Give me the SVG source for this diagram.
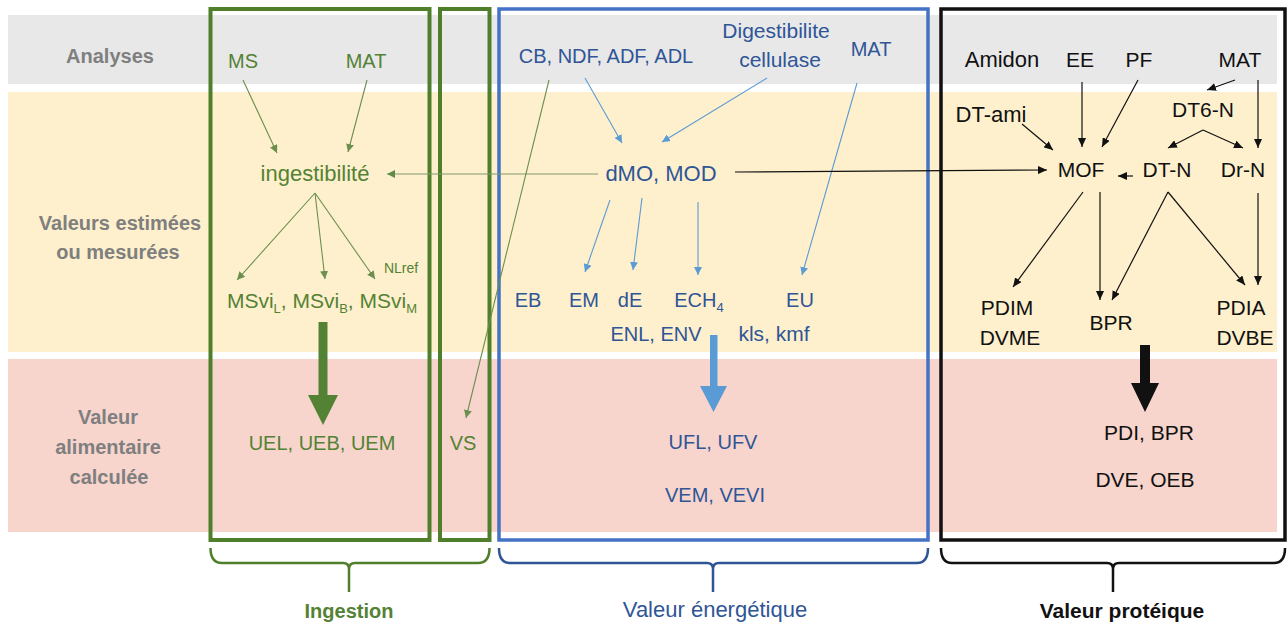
<svg xmlns="http://www.w3.org/2000/svg" width="1288" height="626" viewBox="0 0 1288 626">
  <style>
    text { font-family: "Liberation Sans", Arial, sans-serif; font-size: 20px; text-anchor: middle; }
    .row { font-weight: bold; fill: #7f7f7f; }
    .g { fill: #548235; }
    .b { fill: #2f5597; }
    .k { fill: #111111; font-size: 21px; }
    .big { font-size: 22px; }
    .sub { font-size: 13px; }
    .lg { stroke: #6b8f4f; stroke-width: 1.1; fill: none; }
    .lgr { stroke: #7f9a6f; stroke-width: 1.1; fill: none; }
    .lb { stroke: #5b9bd5; stroke-width: 1.1; fill: none; }
    .lk { stroke: #111111; stroke-width: 1.2; fill: none; }
    .box { fill: none; }
    .brace { fill: none; stroke-width: 2.5; }
  </style>
  <defs>
    <marker id="ah-g" markerUnits="userSpaceOnUse" markerWidth="9" markerHeight="8" refX="8" refY="4" orient="auto">
      <path d="M0,0 L8,4 L0,8 z" fill="#6b8f4f"/>
    </marker>
    <marker id="ah-gr" markerUnits="userSpaceOnUse" markerWidth="9" markerHeight="8" refX="8" refY="4" orient="auto">
      <path d="M0,0 L8,4 L0,8 z" fill="#5f8a47"/>
    </marker>
    <marker id="ah-b" markerUnits="userSpaceOnUse" markerWidth="9" markerHeight="8" refX="8" refY="4" orient="auto">
      <path d="M0,0 L8,4 L0,8 z" fill="#5b9bd5"/>
    </marker>
    <marker id="ah-k" markerUnits="userSpaceOnUse" markerWidth="10" markerHeight="8" refX="9" refY="4" orient="auto">
      <path d="M0,0 L9,4 L0,8 z" fill="#111111"/>
    </marker>
  </defs>

  <rect width="1288" height="626" fill="#ffffff"/>

  <!-- horizontal bands -->
  <g id="bands">
    <rect x="8" y="15" width="1269" height="69" fill="#e8e8e8"/>
    <rect x="8" y="92" width="1269" height="260" fill="#fef0cc"/>
    <rect x="8" y="359" width="1269" height="173" fill="#f7d5cd"/>
  </g>

  <!-- row titles -->
  <g id="row-labels">
    <text class="row" x="110" y="63">Analyses</text>
    <text class="row" x="120" y="230">Valeurs estimées</text>
    <text class="row" x="118" y="259">ou mesurées</text>
    <text class="row" x="108" y="424">Valeur</text>
    <text class="row" x="108" y="454">alimentaire</text>
    <text class="row" x="109" y="484">calculée</text>
  </g>

  <!-- frames -->
  <g id="frames">
    <rect class="box" x="210.5" y="9" width="219" height="531" stroke="#4f7f2a" stroke-width="4"/>
    <rect class="box" x="440" y="9" width="49.5" height="531" stroke="#4f7f2a" stroke-width="4"/>
    <rect class="box" x="499" y="9" width="429" height="531" stroke="#4472c4" stroke-width="3.5"/>
    <rect class="box" x="941" y="9" width="344" height="531" stroke="#111111" stroke-width="3.5"/>
  </g>

  <!-- connectors -->
  <g id="connectors">
    <!-- ingestion -->
    <line class="lg" x1="243" y1="80" x2="277" y2="153" marker-end="url(#ah-g)"/>
    <line class="lg" x1="367" y1="80" x2="348" y2="152" marker-end="url(#ah-g)"/>
    <line class="lg" x1="315" y1="193" x2="237" y2="280" marker-end="url(#ah-g)"/>
    <line class="lg" x1="315" y1="193" x2="325" y2="279" marker-end="url(#ah-g)"/>
    <line class="lg" x1="315" y1="193" x2="375" y2="279" marker-end="url(#ah-g)"/>
    <line class="lgr" x1="598" y1="174" x2="387" y2="174" marker-end="url(#ah-gr)"/>
    <line class="lg" x1="549" y1="80" x2="466" y2="418" marker-end="url(#ah-g)"/>
    <path d="M318.5,322 H327.5 V395 H338 L323,425 L308,395 H318.5 z" fill="#548235"/>

    <!-- energy -->
    <line class="lb" x1="585" y1="78" x2="622" y2="143" marker-end="url(#ah-b)"/>
    <line class="lb" x1="767" y1="78" x2="662" y2="142" marker-end="url(#ah-b)"/>
    <line class="lb" x1="857" y1="83" x2="802" y2="275" marker-end="url(#ah-b)"/>
    <line class="lb" x1="610" y1="200" x2="585" y2="272" marker-end="url(#ah-b)"/>
    <line class="lb" x1="642" y1="198" x2="633" y2="270" marker-end="url(#ah-b)"/>
    <line class="lb" x1="698" y1="202" x2="698" y2="275" marker-end="url(#ah-b)"/>
    <path d="M710,335 H717.5 V386 H727 L713.5,412 L700,386 H710 z" fill="#5b9bd5"/>

    <!-- protein -->
    <line class="lk" x1="735" y1="172" x2="1047" y2="170" marker-end="url(#ah-k)"/>
    <line class="lk" x1="1082" y1="82" x2="1082" y2="147" marker-end="url(#ah-k)"/>
    <line class="lk" x1="1138" y1="80" x2="1102" y2="147" marker-end="url(#ah-k)"/>
    <line class="lk" x1="1022" y1="124" x2="1053" y2="150" marker-end="url(#ah-k)"/>
    <line class="lk" x1="1235" y1="80" x2="1207" y2="90" marker-end="url(#ah-k)"/>
    <line class="lk" x1="1258" y1="80" x2="1258" y2="148" marker-end="url(#ah-k)"/>
    <line class="lk" x1="1203" y1="130" x2="1168" y2="148" marker-end="url(#ah-k)"/>
    <line class="lk" x1="1203" y1="130" x2="1243" y2="148" marker-end="url(#ah-k)"/>
    <line class="lk" x1="1133" y1="176" x2="1118" y2="176" marker-end="url(#ah-k)"/>
    <line class="lk" x1="1083" y1="192" x2="1013" y2="287" marker-end="url(#ah-k)"/>
    <line class="lk" x1="1100" y1="192" x2="1100" y2="300" marker-end="url(#ah-k)"/>
    <line class="lk" x1="1168" y1="192" x2="1112" y2="300" marker-end="url(#ah-k)"/>
    <line class="lk" x1="1168" y1="192" x2="1245" y2="285" marker-end="url(#ah-k)"/>
    <line class="lk" x1="1258" y1="193" x2="1258" y2="285" marker-end="url(#ah-k)"/>
    <path d="M1140,345 H1150 V383 H1159 L1145,412 L1131,383 H1140 z" fill="#111111"/>
  </g>

  <!-- ingestion nodes -->
  <g id="n-ms"><text class="g" x="243" y="68">MS</text></g>
  <g id="n-mat-g"><text class="g" x="366" y="68">MAT</text></g>
  <g id="n-ingestibilite"><text class="g big" x="315" y="181">ingestibilité</text></g>
  <g id="n-nlref"><text class="g" x="401" y="273" style="font-size:14px">NLref</text></g>
  <g id="n-msvi"><text class="g" x="322" y="308" style="font-size:21px">MSvi<tspan class="sub" dy="5">L</tspan><tspan dy="-5">, MSvi</tspan><tspan class="sub" dy="5">B</tspan><tspan dy="-5">, MSvi</tspan><tspan class="sub" dy="5">M</tspan></text></g>
  <g id="n-ue"><text class="g" x="322" y="450">UEL, UEB, UEM</text></g>
  <g id="n-vs"><text class="g" x="463" y="450">VS</text></g>

  <!-- energy nodes -->
  <g id="n-fibres"><text class="b" x="606" y="63">CB, NDF, ADF, ADL</text></g>
  <g id="n-cellulase"><text class="b" x="776" y="38" style="font-size:21px">Digestibilite</text><text class="b" x="780" y="67" style="font-size:21px">cellulase</text></g>
  <g id="n-mat-b"><text class="b" x="871" y="56">MAT</text></g>
  <g id="n-dmo"><text class="b big" x="661" y="181">dMO, MOD</text></g>
  <g id="n-eb"><text class="b" x="528" y="307">EB</text></g>
  <g id="n-em"><text class="b" x="584" y="307">EM</text></g>
  <g id="n-de"><text class="b" x="630" y="307">dE</text></g>
  <g id="n-ech4"><text class="b" x="699" y="307">ECH<tspan class="sub" dy="5">4</tspan></text></g>
  <g id="n-eu"><text class="b" x="800" y="307">EU</text></g>
  <g id="n-enl"><text class="b" x="656" y="341">ENL, ENV</text></g>
  <g id="n-kls"><text class="b" x="774" y="341" style="font-size:21px">kls, kmf</text></g>
  <g id="n-ufl"><text class="b" x="713" y="449">UFL, UFV</text></g>
  <g id="n-vem"><text class="b" x="715" y="502">VEM, VEVI</text></g>

  <!-- protein nodes -->
  <g id="n-amidon"><text class="k big" x="1002" y="67">Amidon</text></g>
  <g id="n-ee"><text class="k" x="1080" y="67">EE</text></g>
  <g id="n-pf"><text class="k" x="1139" y="67">PF</text></g>
  <g id="n-mat-k"><text class="k" x="1240" y="67">MAT</text></g>
  <g id="n-dtami"><text class="k big" x="991" y="122">DT-ami</text></g>
  <g id="n-dt6n"><text class="k" x="1203" y="117">DT6-N</text></g>
  <g id="n-mof"><text class="k" x="1081" y="177">MOF</text></g>
  <g id="n-dtn"><text class="k" x="1167" y="177">DT-N</text></g>
  <g id="n-drn"><text class="k" x="1243" y="177">Dr-N</text></g>
  <g id="n-pdim"><text class="k" x="1007" y="315">PDIM</text><text class="k" x="1010" y="345">DVME</text></g>
  <g id="n-bpr"><text class="k" x="1111" y="330">BPR</text></g>
  <g id="n-pdia"><text class="k" x="1241" y="315">PDIA</text><text class="k" x="1245" y="345">DVBE</text></g>
  <g id="n-pdi"><text class="k" x="1149" y="440">PDI, BPR</text></g>
  <g id="n-dve"><text class="k" x="1145" y="487">DVE, OEB</text></g>

  <!-- group braces -->
  <g id="brace-ingestion">
    <path class="brace" stroke="#4f7f2a" d="M210.5,548 Q210.5,563 222,563 H343 Q349,563 349,569 V592 M349,569 Q349,563 355,563 H478 Q489.5,563 489.5,548"/>
    <text x="349" y="618" fill="#548235" style="font-weight:bold">Ingestion</text>
  </g>
  <g id="brace-energie">
    <path class="brace" stroke="#2f5597" d="M499,548 Q499,563 510,563 H707 Q713,563 713,569 V592 M713,569 Q713,563 719,563 H917 Q928,563 928,548"/>
    <text x="715" y="617" fill="#2f5597" style="font-size:22px">Valeur énergétique</text>
  </g>
  <g id="brace-proteique">
    <path class="brace" stroke="#111111" d="M941,548 Q941,563 952,563 H1107 Q1113,563 1113,569 V592 M1113,569 Q1113,563 1119,563 H1274 Q1285,563 1285,548"/>
    <text x="1122" y="618" fill="#111111" style="font-weight:bold;font-size:21px">Valeur protéique</text>
  </g>
</svg>
